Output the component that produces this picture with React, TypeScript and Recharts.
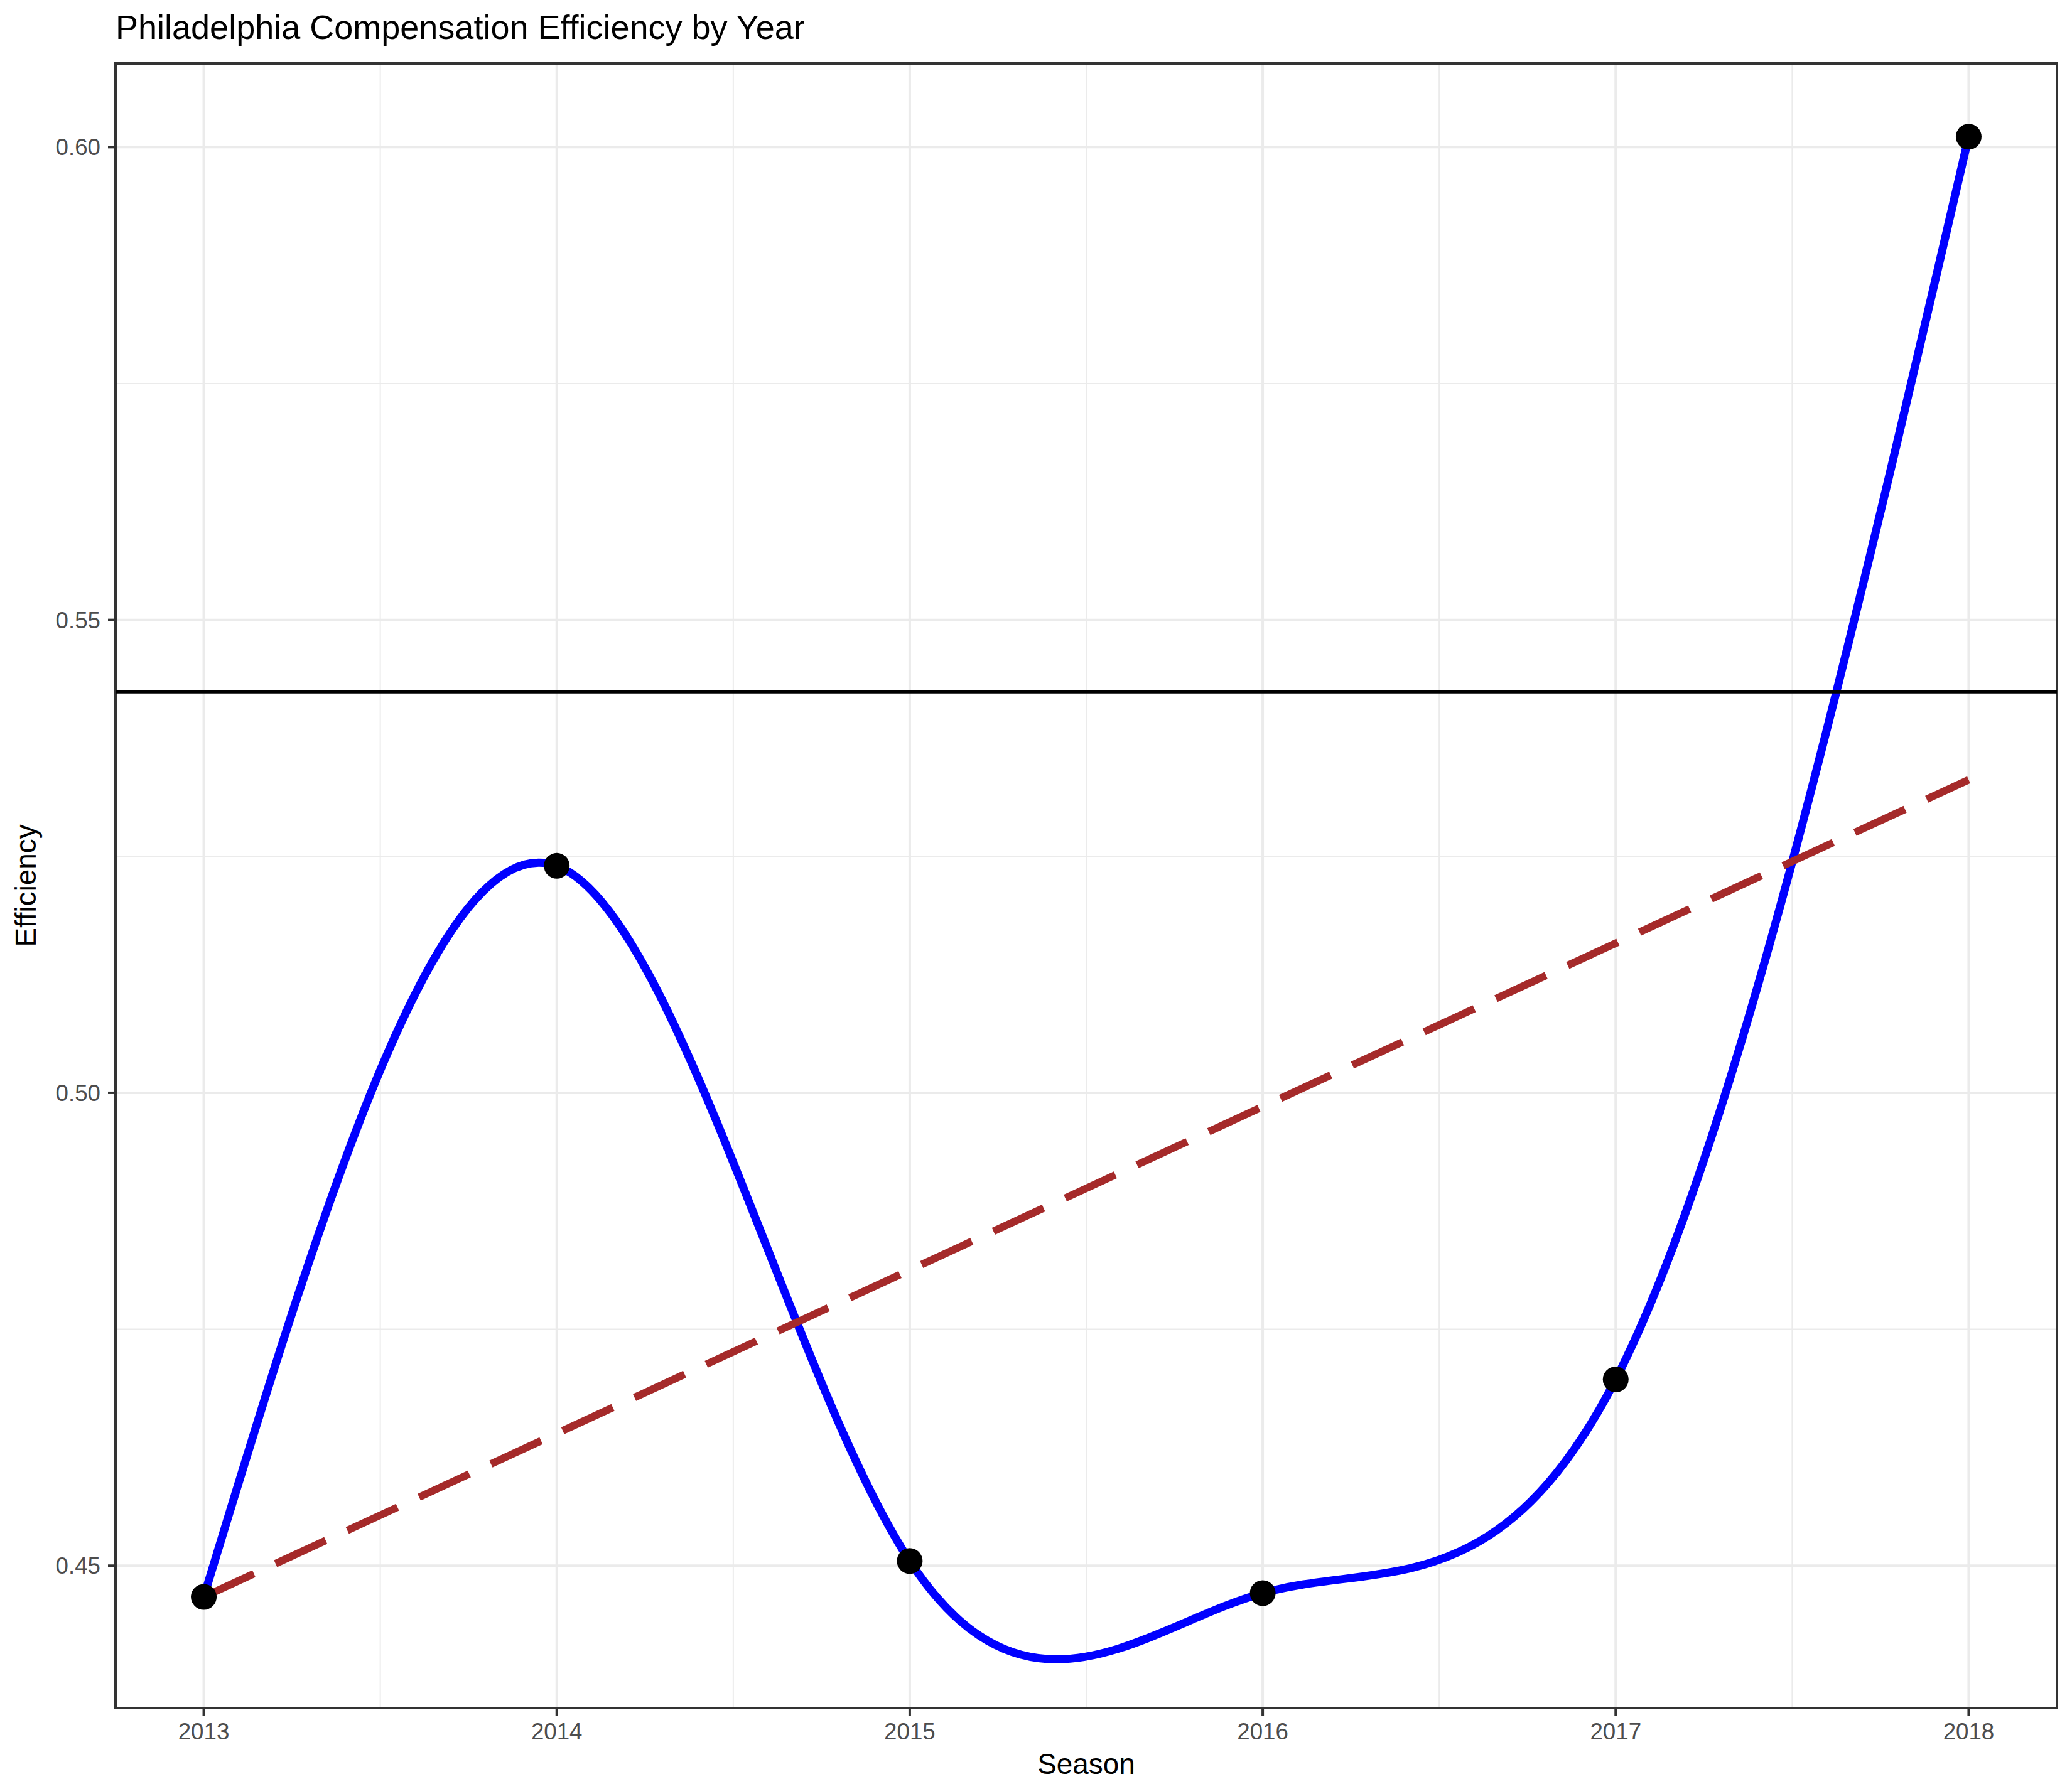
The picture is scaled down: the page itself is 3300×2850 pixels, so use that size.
import React from "react";
import {
  ComposedChart,
  Line,
  Scatter,
  XAxis,
  YAxis,
  CartesianGrid,
  ReferenceLine,
  ReferenceArea,
} from "recharts";

// ---- data ----
const seasons = [2013, 2014, 2015, 2016, 2017, 2018];
const efficiency = [0.4467, 0.524, 0.4505, 0.4471, 0.4697, 0.6011];
const trendSeasons = [2013, 2018];
const trendValues = [0.4467, 0.5331];
const referenceLevel = [0.5424];
const xTicks = [2013, 2014, 2015, 2016, 2017, 2018];
const yTicks = [0.45, 0.5, 0.55, 0.6];
const xMinorTicks = [2013.5, 2014.5, 2015.5, 2016.5, 2017.5];
const yMinorTicks = [0.475, 0.525, 0.575];
const xDomain = [2012.75, 2018.25];
const yDomain = [0.43495, 0.60885];

const pointData = seasons.map((s, i) => ({ season: s, eff: efficiency[i] }));
const trendData = trendSeasons.map((s, i) => ({ season: s, trend: trendValues[i] }));

const FONT = "'Liberation Sans', Arial, Helvetica, sans-serif";
const W = 3300;
const H = 2850;

const Dot = (props: any) => {
  const { cx, cy } = props;
  if (cx == null || cy == null) return null;
  return <circle cx={cx} cy={cy} r={20.5} fill="#000000" />;
};

export default function App() {
  return (
    <div
      style={{
        position: "absolute",
        left: 0,
        top: 0,
        width: W,
        height: H,
        background: "#ffffff",
      }}
    >
      <ComposedChart
        width={W}
        height={H}
        data={pointData}
        margin={{ top: 101, right: 24, bottom: 0, left: 0 }}
      >
        <XAxis
          xAxisId="minor"
          type="number"
          dataKey="season"
          domain={xDomain}
          ticks={xMinorTicks}
          allowDataOverflow
          hide
        />
        <YAxis
          yAxisId="minor"
          type="number"
          domain={yDomain}
          ticks={yMinorTicks}
          allowDataOverflow
          hide
        />
        <CartesianGrid
          xAxisId="minor"
          yAxisId="minor"
          stroke="#EBEBEB"
          strokeWidth={2}
        />
        <CartesianGrid stroke="#EBEBEB" strokeWidth={4} />
        <XAxis
          type="number"
          dataKey="season"
          domain={xDomain}
          ticks={xTicks}
          allowDataOverflow
          height={129}
          axisLine={false}
          tickSize={12}
          tickMargin={12}
          tickLine={{ stroke: "#333333", strokeWidth: 4 }}
          tick={{ fill: "#4D4D4D", fontSize: 36.7, fontFamily: FONT }}
          interval={0}
        />
        <YAxis
          type="number"
          domain={yDomain}
          ticks={yTicks}
          allowDataOverflow
          width={184}
          axisLine={false}
          tickSize={12}
          tickMargin={12}
          tickLine={{ stroke: "#333333", strokeWidth: 4 }}
          tick={{ fill: "#4D4D4D", fontSize: 36.7, fontFamily: FONT }}
          tickFormatter={(v: number) => v.toFixed(2)}
          interval={0}
        />
        <Scatter
          data={pointData}
          dataKey="eff"
          shape={Dot}
          isAnimationActive={false}
        />
        <Line
          data={pointData}
          dataKey="eff"
          type="natural"
          stroke="#0000FF"
          strokeWidth={13}
          dot={false}
          activeDot={false}
          isAnimationActive={false}
        />
        <Line
          data={trendData}
          dataKey="trend"
          type="linear"
          stroke="#A52A2A"
          strokeWidth={12}
          strokeDasharray="88 38"
          dot={false}
          activeDot={false}
          isAnimationActive={false}
        />
        <ReferenceLine
          y={referenceLevel[0]}
          stroke="#000000"
          strokeWidth={5}
        />
        <ReferenceArea
          x1={xDomain[0]}
          x2={xDomain[1]}
          y1={yDomain[0]}
          y2={yDomain[1]}
          fill="none"
          fillOpacity={0}
          stroke="#333333"
          strokeWidth={4}
          ifOverflow="visible"
        />
      </ComposedChart>
      <svg
        width={W}
        height={H}
        style={{ position: "absolute", left: 0, top: 0, pointerEvents: "none" }}
      >
        <text x={184} y={62} fontSize={54} fontFamily={FONT} fill="#000000">
          Philadelphia Compensation Efficiency by Year
        </text>
        <text
          x={1730}
          y={2826}
          fontSize={45.8}
          fontFamily={FONT}
          fill="#000000"
          textAnchor="middle"
        >
          Season
        </text>
        <text
          transform="translate(57,1411) rotate(-90)"
          fontSize={45.8}
          fontFamily={FONT}
          fill="#000000"
          textAnchor="middle"
        >
          Efficiency
        </text>
      </svg>
    </div>
  );
}
